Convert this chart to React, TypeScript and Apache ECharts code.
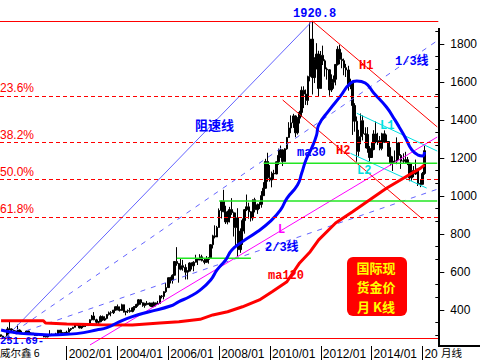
import React, { useEffect, useRef } from 'react';
import * as echarts from 'echarts';

// ---------- categories (monthly, 1999/06 .. 2016/08) ----------
const months: string[] = [];
for (let i = 0; i < 207; i++) {
  const t = 1999 * 12 + 5 + i;
  months.push(`${Math.floor(t / 12)}/${String((t % 12) + 1).padStart(2, '0')}`);
}

// ---------- monthly candles: [open, high, low, close] ----------
const gold1999 = [[268.6,269.4,256.9,261.3],[261.3,264,252.8,255.6],[255.6,258,251.7,254.6],[254.6,310,253,299],[299,338,295,299.1],[299,302,287,291.4],[291.4,292,276,288]];
const gold2000 = [[288,292,281,283.3],[283.3,322,281,293.6],[293.6,297,274,278.5],[278.5,290,272,275],[275,281,270,272.5],[272.5,292,271,288],[288,291,276,277],[277,280,269,277.5],[277.5,278,268,273.6],[273.6,276,263,264.5],[264.5,270,262,269],[269,275,268,272.7]];
const gold2001 = [[272.7,273,262,265.6],[265.6,270,255,266.7],[266.7,268,255,257.7],[257.7,266,255,263.6],[263.6,293,262,266],[266,275,265,270.6],[270.6,272,264,265.4],[265.4,279,264,273],[273,294,270,293],[293,294,276,279],[279,281,271,274],[274,282,271,278.6]];
const gold2002 = [[278.6,290,277,281.8],[281.8,306,281,296.8],[296.8,304,289,301.7],[301.7,310,300,308.2],[308.2,327,307,326.6],[326.6,330,314,318.5],[318.5,323,302,304.9],[304.9,316,300,311.6],[311.6,326,310,323.7],[323.7,324,310,316.8],[316.8,324,315,317.5],[317.5,350,317,347.7]];
const gold2003 = [[347.7,373,344,367.5],[367.5,388,345,347.5],[347.5,353,322,334.9],[334.9,341,320,336.8],[336.8,371,335,364],[364,370,342,346],[346,366,341,354.8],[354.8,377,350,375.6],[375.6,391,370,384],[384,393,366,384.8],[384.8,399,378,398.3],[398.3,417,396,416.2]];
const gold2004 = [[416.2,428,397,402.2],[402.2,418,391,396.8],[396.8,432,395,426.8],[426.8,427,386,387.8],[387.8,394,371,393.2],[393.2,402,383,395.9],[395.9,410,385,390.8],[390.8,414,387,410.4],[410.4,419,397,417.6],[417.6,432,410,428.2],[428.2,456,422,452.8],[452.8,456,427,437.5]];
const gold2005 = [[437.5,439,416,422.4],[422.4,437,411,434.5],[434.5,446,424,427.7],[427.7,438,419,435.3],[435.3,436,414,417.2],[417.2,443,414,436.3],[436.3,437,418,429.4],[429.4,447,428,433.8],[433.8,476,432,472.8],[472.8,478,460,470.7],[470.7,498,455,495.5],[495.5,541,489,517]];
const gold2006 = [[517,570,515,568.8],[568.8,574,539,556],[556,587,538,582],[582,654,582,654.5],[654.5,730,632,643.5],[643.5,647,543,613.5],[613.5,668,608,632.5],[632.5,663,606,623.5],[623.5,640,560,598.5],[598.5,608,560,603.8],[603.8,650,603,646.3],[646.3,649,612,632]];
const gold2007 = [[632,656,603,650.5],[650.5,690,649,669],[669,670,636,661.8],[661.8,693,661,679],[679,690,655,659.1],[659.1,671,640,650.5],[650.5,683,649,665.5],[665.5,678,643,672],[672,746,669,743],[743,795,723,789.5],[789.5,845,776,783.5],[783.5,842,783,833.8]];
const gold2008 = [[833.8,934,833,923.3],[923.3,975,881,971.5],[971.5,1032,917,916.2],[916.2,948,852,863],[863,922,850,885],[885,942,860,928],[928,988,900,911.7],[911.7,917,786,833],[833,912,740,884.5],[884.5,935,681,716.8],[716.8,829,700,814.5],[814.5,881,742,869.8]];
const gold2009 = [[869.8,931,801,927.3],[927.3,1007,920,942.5],[942.5,964,880,916.5],[916.5,920,865,883.3],[883.3,981,870,979.5],[979.5,990,913,926.9],[926.9,960,905,953.4],[953.4,967,931,955.5],[955.5,1025,938,1001.2],[1001.2,1072,1000,1040.2],[1040.2,1195,1038,1181],[1181,1227,1075,1095.2]];
const gold2010 = [[1095.2,1162,1075,1083.4],[1083.4,1128,1045,1118.7],[1118.7,1137,1088,1115.5],[1115.5,1181,1114,1179.3],[1179.3,1249,1163,1213.1],[1213.1,1265,1200,1242.2],[1242.2,1245,1157,1181.4],[1181.4,1251,1180,1247.5],[1247.5,1310,1243,1307.9],[1307.9,1388,1305,1357.6],[1357.6,1424,1330,1384.6],[1384.6,1432,1358,1420.8]];
const gold2011 = [[1420.8,1424,1309,1332.3],[1332.3,1414,1323,1409.3],[1409.3,1448,1381,1439.3],[1439.3,1576,1417,1556],[1556,1577,1462,1536],[1536,1560,1479,1502.6],[1502.6,1633,1478,1628.1],[1628.1,1913,1603,1825.5],[1825.5,1920.8,1534,1623],[1623,1730,1594,1716],[1716,1804,1666,1746.5],[1746.5,1764,1523,1565.7]];
const gold2012 = [[1565.7,1763,1563,1740],[1740,1791,1689,1711],[1711,1719,1628,1668],[1668,1676,1612,1664],[1664,1667,1527,1558],[1558,1640,1547,1598.5],[1598.5,1634,1564,1614],[1614,1693,1582,1692],[1692,1788,1686,1772],[1772,1796,1693,1719],[1719,1755,1672,1712],[1712,1723,1635,1675]];
const gold2013 = [[1675,1695,1626,1663],[1663,1685,1554,1578],[1578,1617,1562,1597],[1597,1605,1321,1476],[1476,1488,1338,1393],[1393,1418,1180,1234],[1234,1348,1208,1312],[1312,1434,1272,1396],[1396,1424,1292,1327],[1327,1361,1251,1323],[1323,1362,1227,1250],[1250,1262,1182,1202]];
const gold2014 = [[1202,1280,1200,1244],[1244,1346,1240,1326],[1326,1392,1277,1284],[1284,1332,1268,1291],[1291,1315,1240,1250],[1250,1332,1240,1327],[1327,1345,1282,1282],[1282,1323,1281,1286],[1286,1288,1205,1209],[1209,1256,1160,1172],[1172,1208,1131,1183],[1183,1239,1168,1184]];
const gold2015 = [[1184,1308,1167,1279],[1279,1283,1190,1213],[1213,1220,1142,1183],[1183,1224,1170,1184],[1184,1232,1170,1190],[1190,1205,1162,1172],[1172,1175,1077,1095],[1095,1170,1080,1133],[1133,1157,1098,1115],[1115,1191,1110,1142],[1142,1142,1052,1065],[1065,1088,1046,1061]];
const gold2016 = [[1061,1126,1061,1118],[1118,1263,1111,1238]];

// ---------- moving averages ----------
const ma30: [string, number][] = [
  ['1999/06',294],['1999/10',285],['2000/03',276],['2000/09',273],['2001/05',268],['2002/01',271],
  ['2002/09',280],['2003/03',294],['2003/08',306],['2004/02',338],['2004/08',364],['2005/04',390],
  ['2006/02',420],['2006/06',443],['2006/11',469],['2007/04',504],['2007/09',557],['2007/12',610],
  ['2008/04',662],['2008/07',715],['2008/12',759],['2009/07',811],['2010/01',864],['2010/06',926],
  ['2010/09',987],['2011/02',1057],['2011/04',1120],['2011/06',1189],['2011/09',1259],['2011/11',1320],
  ['2011/12',1373],['2012/05',1452],['2012/10',1521],['2013/03',1594],['2013/06',1605],['2013/10',1594],
  ['2014/02',1542],['2014/08',1468],['2014/12',1400],['2015/02',1363],['2015/05',1305],['2015/08',1242],
  ['2015/11',1215],['2016/01',1210],['2016/02',1231],
];
const ma120: [string, number][] = [
  ['1999/06',343],['2001/02',343],['2001/03',331],['2002/01',325],['2003/05',322],['2004/08',320],
  ['2005/09',331],['2006/06',337],['2007/04',350],['2007/10',373],['2008/05',390],['2008/12',416],
  ['2009/08',452],['2010/02',495],['2010/09',548],['2011/03',647],['2011/08',706],['2011/12',768],
  ['2012/08',857],['2013/04',917],['2013/12',978],['2014/08',1040],['2015/04',1093],['2015/08',1119],
  ['2015/12',1145],['2016/02',1163],
];

// ---------- drawn study lines ----------
const peakValue = 1920.8;
const lowValue = 251.69;
const fibLevels = [1526.9, 1283.2, 1086.2, 889.3];
const fibLabels = ['23.6%', '38.2%', '50.0%', '61.8%'];
const speedMain: [string, number][] = [['1999/08', 251.69], ['2011/09', 1920.8]];
const speedOneThird: [string, number][] = [['1999/08', 251.69], ['2016/08', 1817]];
const speedTwoThird: [string, number][] = [['1999/08', 251.69], ['2016/08', 1035]];
const lineH1: [string, number][] = [['2011/09', 1920.8], ['2016/08', 1363]];
const lineH2: [string, number][] = [['2010/07', 1505], ['2016/01', 878]];
const lineL1: [string, number][] = [['2013/06', 1435], ['2016/08', 1236]];
const lineL2: [string, number][] = [['2013/03', 1224], ['2016/03', 1041]];
const lineL: [string, number][] = [['2002/12', 215], ['2016/08', 1310]];
const green1: [string, number][] = [['2009/10', 1172], ['2016/08', 1172]];
const green2: [string, number][] = [['2008/01', 973], ['2016/08', 973]];
const green3: [string, number][] = [['2006/05', 671], ['2009/04', 671]];

const yTicks = [400, 600, 800, 1000, 1200, 1400, 1600, 1800];
const yMinorTicks: number[] = [];
for (let v = 266.67; v < 1880; v += 66.667) {
  if (Math.abs(v / 200 - Math.round(v / 200)) > 0.05) yMinorTicks.push(v);
}

const allGold = [
  ...gold1999, ...gold2000, ...gold2001, ...gold2002, ...gold2003, ...gold2004, ...gold2005,
  ...gold2006, ...gold2007, ...gold2008, ...gold2009, ...gold2010, ...gold2011, ...gold2012,
  ...gold2013, ...gold2014, ...gold2015, ...gold2016,
];
const candleData = allGold.map(([o, h, l, c]) => [o, c, l, h]);

const BLUE = '#0000ff';
const RED = '#ff0000';
const CYAN = '#00e0e0';
const MAG = '#ff00ff';
const GREEN = '#22e622';
const LBLUE = '#6464ff';
const MONO = 'bold 12px "Liberation Mono", "Noto Sans CJK SC", monospace';
const BOX_FONT = 'bold 13px "Noto Sans CJK SC", sans-serif';

const isLabelMonth = (_i: number, val: string) => {
  const [y, m] = String(val).split('/');
  return m === '01' && +y % 2 === 0 && +y >= 2002;
};

function lineSeries(data: [string, number][], color: string, width: number, type: any = 'solid', smooth = false) {
  return {
    type: 'line', data, symbol: 'none', smooth, silent: true, clip: true,
    lineStyle: { color, width, type },
    z: 3,
  };
}

function txt(text: string, x: number, y: number, fill: string, font: string, align = 'left', extra: any = {}) {
  return { type: 'text', x, y, z: 100, silent: true, style: { text, fill, font, align, verticalAlign: 'middle', ...extra } };
}

export default function App() {
  const ref = useRef<HTMLDivElement>(null);
  useEffect(() => {
    if (!ref.current) return;
    const chart = echarts.init(ref.current, null, { renderer: 'svg' });
    const option: any = {
      animation: false,
      backgroundColor: '#ffffff',
      grid: { left: 0, right: 41, top: 0, bottom: 14, containLabel: false },
      xAxis: {
        type: 'category', data: months, boundaryGap: true,
        axisLine: { show: false },
        axisTick: { show: true, alignWithLabel: true, interval: isLabelMonth, length: 14, lineStyle: { color: '#000', width: 1 } },
        axisLabel: {
          show: true, interval: isLabelMonth, color: '#000', fontSize: 12, fontFamily: 'Liberation Sans, Arial, sans-serif',
          align: 'left', margin: 2, padding: [0, 0, 0, 2],
          formatter: (v: string) => (v === '2016/01' ? '20' : v),
        },
        splitLine: { show: false },
      },
      yAxis: [
        {
          type: 'value', position: 'right', min: 209.5, max: 2031.4,
          axisLine: { show: false },
          axisTick: { show: true, customValues: yTicks, length: 6, lineStyle: { color: '#000', width: 1 } },
          axisLabel: {
            show: true, customValues: yTicks, color: '#000', fontSize: 12,
            fontFamily: 'Liberation Sans, Arial, sans-serif', margin: 12,
            formatter: (v: number) => String(Math.round(v)),
          },
          splitLine: { show: false },
        },
        {
          type: 'value', position: 'right', min: 209.5, max: 2031.4,
          axisLine: { show: false },
          axisTick: { show: true, inside: true, customValues: yMinorTicks, length: 3, lineStyle: { color: '#000', width: 1 } },
          axisLabel: { show: false },
          splitLine: { show: false },
        },
      ],
      series: [
        {
          type: 'candlestick', data: candleData, barWidth: 2, silent: true,
          itemStyle: { color: '#000', color0: '#000', borderColor: '#000', borderColor0: '#000', borderWidth: 1 },
          markLine: {
            silent: true, symbol: ['none', 'none'], label: { show: false }, animation: false,
            data: [
              { yAxis: peakValue, lineStyle: { color: RED, width: 1, type: 'solid' } },
              { yAxis: lowValue, lineStyle: { color: RED, width: 1, type: 'solid' } },
              ...fibLevels.map((v) => ({ yAxis: v, lineStyle: { color: RED, width: 1, type: [4, 3] } })),
            ],
          },
        },
        lineSeries(speedMain, LBLUE, 1),
        lineSeries(speedOneThird, LBLUE, 1, [5, 6]),
        lineSeries(speedTwoThird, LBLUE, 1, [5, 6]),
        lineSeries(lineH1, RED, 1),
        lineSeries(lineH2, RED, 1),
        lineSeries(lineL1, CYAN, 1),
        lineSeries(lineL2, CYAN, 1),
        lineSeries(lineL, MAG, 1),
        lineSeries(green1, GREEN, 1.5),
        lineSeries(green2, GREEN, 1.5),
        lineSeries(green3, GREEN, 1.5),
        lineSeries(ma120, RED, 3),
        lineSeries(ma30, BLUE, 3, 'solid', true),
      ],
      graphic: [
        { type: 'line', z: 100, silent: true, shape: { x1: 439, y1: 28, x2: 439, y2: 347 }, style: { stroke: '#000', lineWidth: 2 } },
        { type: 'line', z: 100, silent: true, shape: { x1: 438, y1: 346, x2: 480, y2: 346 }, style: { stroke: '#000', lineWidth: 2 } },
        txt('1920.8', 293, 13.5, BLUE, MONO),
        txt('251.69-', 0, 340.5, BLUE, 'bold 10.5px "Liberation Mono", monospace'),
        txt('阻速线', 195, 124, BLUE, 'bold 13px "Noto Sans CJK SC", sans-serif'),
        txt('1/3线', 395, 61.5, BLUE, MONO),
        txt('2/3线', 265, 248, BLUE, MONO),
        txt('ma30', 297, 153, BLUE, MONO),
        txt('ma120', 268, 275.5, RED, MONO),
        txt('H1', 359, 66, RED, MONO),
        txt('H2', 336, 151, RED, MONO),
        txt('L1', 380, 126, CYAN, MONO),
        txt('L2', 357, 171, CYAN, MONO),
        txt('L', 278, 230, MAG, MONO),
        ...fibLabels.map((t, i) => txt(t, 0, [87.5, 135, 172, 209][i], RED, '12px "Liberation Sans", Arial, sans-serif')),
        txt('威尔鑫 6', 0, 352.5, '#000', '10.5px "Noto Sans CJK SC", sans-serif'),
        txt('月线', 441, 352.5, '#000', '10.5px "Noto Sans CJK SC", sans-serif'),
        { type: 'rect', z: 100, silent: true, shape: { x: 347, y: 257, width: 60, height: 59, r: 6 }, style: { fill: RED } },
        txt('国际现', 376, 267, '#ffff00', BOX_FONT, 'center'),
        txt('货金价', 376, 286.5, '#ffff00', BOX_FONT, 'center'),
        txt('月 K线', 376, 306, '#ffff00', BOX_FONT, 'center'),
      ],
    };
    chart.setOption(option);
    return () => chart.dispose();
  }, []);
  return <div ref={ref} style={{ position: 'absolute', left: 0, top: 0, width: 480, height: 360, background: '#fff' }} />;
}
